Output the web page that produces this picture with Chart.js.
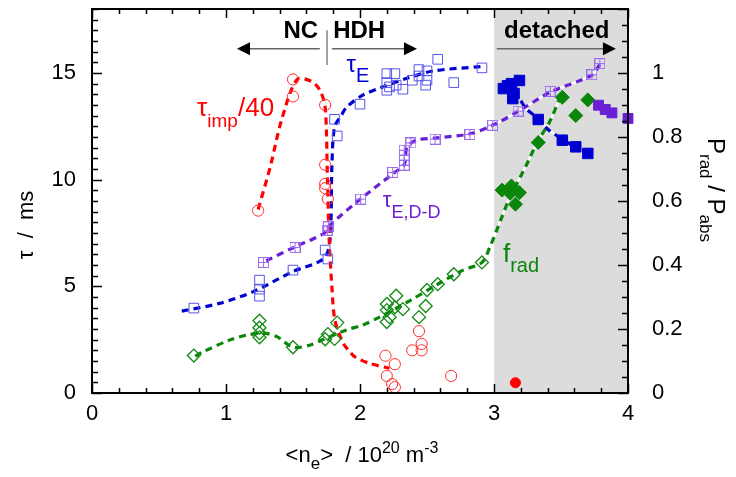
<!DOCTYPE html>
<html><head><meta charset="utf-8">
<script src="https://cdn.jsdelivr.net/npm/chart.js@4.4.0/dist/chart.umd.min.js"></script>
<style>html,body{margin:0;padding:0;background:#fff;}canvas{display:block;}</style>
</head><body>
<canvas id="c" width="736" height="477"></canvas>
<script>
// ---------- data (x = <n_e> / 1e20 m^-3) ----------
const xTicks = [0, 1, 2, 3, 4];
const tauTicks = [0, 5, 10, 15];
const fracTicks = [0, 0.2, 0.4, 0.6, 0.8, 1];

// tau_imp / 40 (ms), open red circles
const impX = [1.24, 1.50, 1.50, 1.74, 1.74, 1.74, 1.74, 1.76, 2.19, 2.26, 2.20, 2.24, 2.26, 2.44, 2.39, 2.46, 2.46, 2.68];
const impY = [8.55, 14.7, 13.9, 13.5, 10.7, 9.8, 9.6, 9.1, 1.75, 1.35, 0.8, 0.42, 0.27, 2.9, 2.0, 2.3, 2.0, 0.8];
const impDetX = [3.16];
const impDetY = [0.48];
const impFitX = [1.24, 1.33, 1.415, 1.53, 1.64, 1.70, 1.74, 1.756, 1.77, 1.79, 1.813, 1.875, 1.925, 1.96, 2.07, 2.22];
const impFitY = [8.6, 10.6, 12.8, 14.7, 14.6, 14.2, 13.4, 10.3, 7.2, 5.0, 3.4, 2.33, 1.93, 1.7, 1.39, 1.16];

// tau_E (ms), open blue squares
const tauEX = [0.76, 1.25, 1.25, 1.25, 1.50, 1.74, 1.76, 1.81, 1.83, 2.00, 2.20, 2.26, 2.20, 2.22, 2.20, 2.27, 2.32, 2.39, 2.44, 2.44, 2.50, 2.50, 2.49, 2.58, 2.70, 2.91];
const tauEY = [3.98, 5.29, 4.87, 4.54, 5.76, 6.70, 6.28, 12.83, 12.05, 13.54, 14.97, 14.97, 14.55, 14.35, 14.19, 14.43, 14.24, 14.66, 15.16, 14.86, 15.10, 14.66, 14.43, 15.64, 14.55, 15.24];
const tauEDetX = [3.07, 3.13, 3.19, 3.15, 3.14, 3.10, 3.33, 3.51, 3.61, 3.70];
const tauEDetY = [14.27, 14.5, 14.65, 14.04, 13.8, 14.4, 12.82, 11.85, 11.54, 11.23];
const tauEFitX = [0.67, 0.95, 1.20, 1.495, 1.73, 1.776, 1.79, 1.81, 1.86, 1.90, 2.02, 2.15, 2.35, 2.55, 2.90];
const tauEFitY = [3.84, 4.2, 4.74, 5.68, 6.3, 7.17, 10.6, 12.47, 13.0, 13.4, 13.96, 14.3, 14.75, 15.1, 15.3];
const tauEDetFitX = [3.20, 3.24, 3.33, 3.41, 3.51, 3.61];
const tauEDetFitY = [13.7, 13.33, 12.85, 12.32, 11.9, 11.5];

// tau_E,D-D (ms), purple squares with cross
const tauDDX = [1.28, 1.515, 1.756, 1.764, 2.005, 2.244, 2.33, 2.33, 2.33, 2.33, 2.38, 2.56, 2.82, 2.99, 3.18, 3.42, 3.73, 3.79];
const tauDDY = [6.12, 6.82, 7.63, 7.79, 9.09, 10.34, 10.68, 10.91, 11.15, 11.38, 11.72, 11.90, 12.12, 12.55, 13.21, 14.14, 14.92, 15.44];
const tauDDDetX = [3.78, 3.83, 3.88, 4.0];
const tauDDDetY = [13.49, 13.29, 13.13, 12.87];
const tauDDFitX = [1.30, 1.515, 1.73, 1.776, 2.005, 2.25, 2.33, 2.35, 2.42, 2.56, 2.82, 2.99, 3.18, 3.42, 3.73, 3.79];
const tauDDFitY = [6.2, 6.85, 7.48, 7.87, 9.1, 10.3, 10.7, 11.5, 11.85, 11.95, 12.15, 12.55, 13.2, 14.1, 14.9, 15.4];

// f_rad = P_rad / P_abs, green diamonds (right axis)
const fradX = [0.76, 1.25, 1.25, 1.25, 1.25, 1.50, 1.74, 1.76, 1.81, 1.83, 2.20, 2.27, 2.20, 2.26, 2.32, 2.22, 2.20, 2.44, 2.49, 2.50, 2.58, 2.70, 2.91];
const fradY = [0.117, 0.226, 0.204, 0.187, 0.174, 0.143, 0.168, 0.184, 0.169, 0.220, 0.278, 0.304, 0.259, 0.268, 0.262, 0.237, 0.222, 0.237, 0.272, 0.322, 0.340, 0.371, 0.408];
const fradDetX = [3.06, 3.13, 3.19, 3.12, 3.16, 3.33, 3.51, 3.61, 3.70];
const fradDetY = [0.634, 0.647, 0.626, 0.624, 0.59, 0.783, 0.924, 0.867, 0.916];
const fradFitX = [0.77, 0.83, 1.03, 1.155, 1.28, 1.38, 1.50, 1.63, 1.73, 1.90, 2.02, 2.15, 2.37, 2.57, 2.77, 2.91, 2.97, 3.06, 3.11, 3.26, 3.33, 3.41, 3.50];
const fradFitY = [0.115, 0.129, 0.166, 0.181, 0.187, 0.176, 0.143, 0.15, 0.168, 0.197, 0.2125, 0.238, 0.288, 0.3375, 0.384, 0.408, 0.457, 0.551, 0.603, 0.728, 0.79, 0.843, 0.93];

// ---------- helpers ----------
const FONT = '"Liberation Sans", Arial, Helvetica, sans-serif';
const pts = (xs, ys) => xs.map((x, i) => ({x: x, y: ys[i]}));

function gridMarker(color, size) {
  const c = document.createElement('canvas');
  c.width = size; c.height = size;
  const g = c.getContext('2d');
  g.strokeStyle = color; g.lineWidth = 1;
  g.strokeRect(0.5, 0.5, size - 1, size - 1);
  const m = Math.floor(size / 2) + 0.5;
  g.beginPath();
  g.moveTo(m, 0.5); g.lineTo(m, size - 0.5);
  g.moveTo(0.5, m); g.lineTo(size - 0.5, m);
  g.stroke();
  return c;
}

const C = {
  red: '#ff0000', blue: '#0000d0', blueOpen: '#5555ee', purple: '#6a1fd6',
  purpleOpen: '#9a6af0', green: '#0a860a', greenOpen: '#118a11', shade: '#dcdcdc'
};

function fit(xs, ys, color, axis) {
  return {data: pts(xs, ys), showLine: true, borderColor: color, borderWidth: 3.2,
    borderDash: [7, 5], pointRadius: 0, tension: 0.3, yAxisID: axis, order: 5, clip: false};
}
function under(xs, ys, axis) {
  return {data: pts(xs, ys), showLine: true, borderColor: '#ffffff', borderWidth: 2.5,
    pointRadius: 0, tension: 0.3, yAxisID: axis, order: 10};
}
function marks(xs, ys, axis, o) {
  return Object.assign({data: pts(xs, ys), showLine: false, yAxisID: axis, order: 1,
    pointHoverRadius: 0, borderWidth: 1}, o);
}

const datasets = [
  under(tauEDetFitX, tauEDetFitY, 'y'),
  under(tauDDFitX, tauDDFitY, 'y'),
  under(fradFitX, fradFitY, 'y2'),
  fit(impFitX, impFitY, C.red, 'y'),
  fit(tauEFitX, tauEFitY, C.blue, 'y'),
  fit(tauEDetFitX, tauEDetFitY, C.blue, 'y'),
  fit(tauDDFitX, tauDDFitY, C.purple, 'y'),
  fit(fradFitX, fradFitY, C.green, 'y2'),
  marks(impX, impY, 'y', {pointStyle: 'circle', pointRadius: 5.6, borderColor: '#ff3030', backgroundColor: 'rgba(0,0,0,0)'}),
  marks(impDetX, impDetY, 'y', {pointStyle: 'circle', pointRadius: 5, borderColor: C.red, backgroundColor: C.red}),
  marks(tauEX, tauEY, 'y', {pointStyle: 'rect', pointRadius: 6.8, borderColor: C.blueOpen, backgroundColor: 'rgba(0,0,0,0)'}),
  marks(tauEDetX, tauEDetY, 'y', {pointStyle: 'rect', pointRadius: 7.4, borderColor: C.blue, backgroundColor: C.blue}),
  marks(tauDDX, tauDDY, 'y', {pointStyle: gridMarker(C.purpleOpen, 11), pointRadius: 5.5}),
  marks(tauDDDetX, tauDDDetY, 'y', {pointStyle: 'rect', pointRadius: 7, borderColor: C.purple, backgroundColor: C.purple, clip: false}),
  marks(fradX, fradY, 'y2', {pointStyle: 'rectRot', pointRadius: 6.5, borderColor: C.greenOpen, backgroundColor: 'rgba(0,0,0,0)', borderWidth: 1.3}),
  marks(fradDetX, fradDetY, 'y2', {pointStyle: 'rectRot', pointRadius: 7, borderColor: C.green, backgroundColor: C.green})
];

// rich text: segs = [{t, size, dy, bold}]
function rich(ctx, x, y, segs, align, color) {
  let w = 0;
  segs.forEach(s => { ctx.font = (s.bold ? 'bold ' : '') + s.size + 'px ' + FONT; s.w = ctx.measureText(s.t).width; w += s.w; });
  let cx = align === 'center' ? x - w / 2 : (align === 'right' ? x - w : x);
  ctx.fillStyle = color; ctx.textAlign = 'left'; ctx.textBaseline = 'alphabetic';
  segs.forEach(s => { ctx.font = (s.bold ? 'bold ' : '') + s.size + 'px ' + FONT; ctx.fillText(s.t, cx, y + (s.dy || 0)); cx += s.w; });
}

function arrow(ctx, x1, x2, y) {
  const dir = Math.sign(x2 - x1);
  ctx.strokeStyle = '#666'; ctx.lineWidth = 1.5;
  ctx.beginPath(); ctx.moveTo(x1, y); ctx.lineTo(x2 - dir * 12, y); ctx.stroke();
  ctx.fillStyle = '#000';
  ctx.beginPath(); ctx.moveTo(x2, y); ctx.lineTo(x2 - dir * 13, y - 6.5); ctx.lineTo(x2 - dir * 13, y + 6.5); ctx.closePath(); ctx.fill();
}

const deco = {
  id: 'deco',
  beforeDraw(chart) {
    const ctx = chart.ctx;
    ctx.save(); ctx.fillStyle = '#fff'; ctx.fillRect(0, 0, chart.width, chart.height); ctx.restore();
  },
  beforeDatasetsDraw(chart) {
    const {ctx, chartArea: a, scales: {x}} = chart;
    ctx.save();
    ctx.fillStyle = C.shade;
    const x3 = x.getPixelForValue(3), x4 = x.getPixelForValue(4);
    ctx.fillRect(x3, a.top, x4 - x3, a.bottom - a.top);
    ctx.restore();
  },
  afterDatasetsDraw(chart) {
    const {ctx, chartArea: a, scales: {x, y, y2}} = chart;
    const X = v => x.getPixelForValue(v), Y = v => y.getPixelForValue(v);
    ctx.save();
    // frame
    ctx.strokeStyle = '#000'; ctx.lineWidth = 2;
    ctx.strokeRect(a.left, a.top, a.right - a.left, a.bottom - a.top);
    ctx.lineWidth = 1.5;
    ctx.beginPath();
    for (let i = 0; i <= 20; i++) {
      const v = i * 0.2, px = Math.round(X(v)) + 0.5;
      const major = i % 5 === 0;
      ctx.moveTo(px, a.bottom); ctx.lineTo(px, a.bottom - (major ? 9 : 5));
      ctx.moveTo(px, a.top); ctx.lineTo(px, a.top + (major ? 9 : 5));
    }
    for (let i = 0; i <= 36; i++) {
      const py = Math.round(Y(i * 0.5)) + 0.5;
      ctx.moveTo(a.left, py); ctx.lineTo(a.left + (i % 10 === 0 ? 10 : 6), py);
    }
    for (let i = 0; i <= 24; i++) {
      const py = Math.round(y2.getPixelForValue(i * 0.05)) + 0.5;
      ctx.moveTo(a.right, py); ctx.lineTo(a.right - (i % 4 === 0 ? 10 : 6), py);
    }
    ctx.stroke();

    // regime annotations
    ctx.fillStyle = '#000';
    rich(ctx, X(1.687), Y(16.62), [{t: 'NC', size: 24, bold: true}], 'right', '#000');
    rich(ctx, X(1.80), Y(16.62), [{t: 'HDH', size: 24, bold: true}], 'left', '#000');
    rich(ctx, X(3.075), Y(16.62), [{t: 'detached', size: 24, bold: true}], 'left', '#000');
    ctx.strokeStyle = '#666'; ctx.lineWidth = 1.2;
    ctx.beginPath(); ctx.moveTo(X(1.754), Y(17.0)); ctx.lineTo(X(1.754), Y(15.38)); ctx.stroke();
    arrow(ctx, X(1.70), X(1.082), Y(16.14));
    arrow(ctx, X(1.79), X(2.425), Y(16.14));
    arrow(ctx, X(3.02), X(3.91), Y(16.14));

    // series labels
    rich(ctx, X(1.90), Y(15.03), [{t: 'τ', size: 24}, {t: 'E', size: 20, dy: 10}], 'left', C.blue);
    rich(ctx, X(0.784), Y(13.0), [{t: 'τ', size: 26}, {t: 'imp', size: 19, dy: 11}, {t: '/40', size: 26}], 'left', C.red);
    rich(ctx, X(2.17), Y(8.71), [{t: 'τ', size: 22}, {t: 'E,D-D', size: 18, dy: 11}], 'left', C.purple);
    rich(ctx, X(3.067), Y(6.14), [{t: 'f', size: 26}, {t: 'rad', size: 20, dy: 10}], 'left', C.green);

    // axis titles
    ctx.save();
    ctx.translate(33, 225); ctx.rotate(-Math.PI / 2);
    rich(ctx, 0, 0, [{t: 'τ  /  ms', size: 22}], 'center', '#000');
    ctx.restore();
    ctx.save();
    ctx.translate(708, 190); ctx.rotate(Math.PI / 2);
    rich(ctx, 0, 0, [{t: 'P', size: 24}, {t: 'rad', size: 17, dy: 8}, {t: ' / P', size: 24}, {t: 'abs', size: 17, dy: 8}], 'center', '#000');
    ctx.restore();
    rich(ctx, 362, 462, [{t: '<n', size: 22}, {t: 'e', size: 17, dy: 7}, {t: '>  / 10', size: 22}, {t: '20', size: 16, dy: -9}, {t: ' m', size: 22}, {t: '-3', size: 16, dy: -9}], 'center', '#000');
    ctx.restore();
  }
};

const tickFont = {family: FONT, size: 22};
function fixed(key, val) {
  return function (s) { s[key] = val; s.paddingTop = 0; s.paddingBottom = 0; s.paddingLeft = 0; s.paddingRight = 0; };
}

new Chart(document.getElementById('c'), {
  type: 'scatter',
  data: {datasets: datasets},
  options: {
    responsive: false, animation: false, devicePixelRatio: 1,
    layout: {padding: {top: 9, left: 0, right: 0, bottom: 0}},
    plugins: {legend: {display: false}, tooltip: {enabled: false}},
    elements: {line: {borderCapStyle: 'butt'}},
    scales: {
      x: {type: 'linear', min: 0, max: 4,
        afterBuildTicks: s => { s.ticks = xTicks.map(v => ({value: v})); },
        afterFit: fixed('height', 84),
        grid: {display: false, drawTicks: false}, border: {display: false},
        ticks: {font: tickFont, color: '#000', padding: 8, maxRotation: 0, callback: v => String(v)}},
      y: {type: 'linear', position: 'left', min: 0, max: 18,
        afterBuildTicks: s => { s.ticks = tauTicks.map(v => ({value: v})); },
        afterFit: fixed('width', 92),
        grid: {display: false, drawTicks: false}, border: {display: false},
        ticks: {font: tickFont, color: '#000', padding: 16, callback: v => String(v)}},
      y2: {type: 'linear', position: 'right', min: 0, max: 1.2,
        afterBuildTicks: s => { s.ticks = fracTicks.map(v => ({value: v})); },
        afterFit: fixed('width', 108),
        grid: {display: false, drawTicks: false}, border: {display: false},
        ticks: {font: tickFont, color: '#000', padding: 24, callback: v => String(Math.round(v * 10) / 10)}}
    }
  },
  plugins: [deco]
});
</script>
</body></html>
